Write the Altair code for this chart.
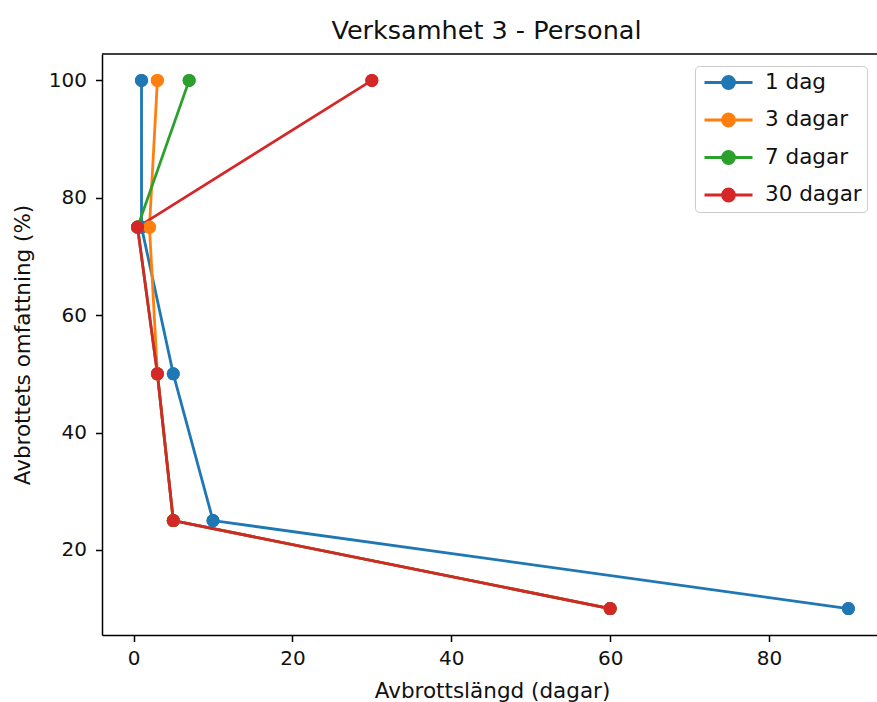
import altair as alt
import pandas as pd

# ---- data ----
series = ["1 dag", "3 dagar", "7 dagar", "30 dagar"]
colors = ["#1f77b4", "#ff7f0e", "#2ca02c", "#d62728"]
omfattning = [100, 75, 50, 25, 10]          # y values (%)
x_1dag = [1, 1, 5, 10, 90]
x_3dagar = [3, 2, 3, 5, 60]
x_7dagar = [7, 0.5, 3, 5, 60]
x_30dagar = [30, 0.5, 3, 5, 60]
x_ticks = [0, 20, 40, 60, 80]
y_ticks = [20, 40, 60, 80, 100]

rows = []
for s, xs in zip(series, [x_1dag, x_3dagar, x_7dagar, x_30dagar]):
    for i, (xv, yv) in enumerate(zip(xs, omfattning)):
        rows.append({"serie": s, "dagar": xv, "omfattning": yv, "ordning": i})
df = pd.DataFrame(rows)

W, H = 775, 581
XDOM = [-3.975, 93.6]
YDOM = [5.5, 104.5]
FONT = "DejaVu Sans"

xenc = alt.X("dagar:Q", scale=alt.Scale(domain=XDOM, nice=False, zero=False),
             axis=alt.Axis(values=x_ticks, title="Avbrottslängd (dagar)", labelPadding=7,
                           titleX=390, titleY=62, titleBaseline="alphabetic"))
yenc = alt.Y("omfattning:Q", scale=alt.Scale(domain=YDOM, nice=False, zero=False),
             axis=alt.Axis(values=y_ticks, title="Avbrottets omfattning (%)", labelPadding=9,
                           titleX=-73, titleY=H / 2, titleBaseline="alphabetic"))

sym_path = "M-2.4,0L2.4,0M0.6,0A0.6,0.6,0,1,1,-0.6,0A0.6,0.6,0,1,1,0.6,0Z"
color = alt.Color(
    "serie:N",
    scale=alt.Scale(domain=series, range=colors),
    legend=alt.Legend(
        title=None, orient="none", legendX=593, legendY=12, direction="vertical",
        symbolType=sym_path, symbolSize=400, symbolStrokeWidth=2.8,
        symbolOffset=17, labelOffset=25, labelFontSize=21.5, labelFont=FONT,
        labelColor="#111111", rowPadding=12.5, padding=5, symbolOpacity=1,
        strokeColor="#cccccc", fillColor="white", cornerRadius=4,
    ),
)

base = alt.Chart(df)
points_under = base.mark_point(filled=True, size=170, opacity=1).encode(x=xenc, y=yenc, color=color)
lines = base.mark_line(strokeWidth=2.8).encode(x=xenc, y=yenc, color=color, order="ordning:Q")
points = base.mark_point(filled=True, size=170, opacity=1).encode(x=xenc, y=yenc, color=color)
frame_top = alt.Chart(pd.DataFrame({"a": [0]})).mark_rule(color="black", strokeWidth=1.5).encode(
    y=alt.datum(YDOM[1]), x=alt.value(0), x2=alt.value(W))

chart = alt.layer(points_under, lines, points, frame_top).properties(
    width=W, height=H,
    title=alt.TitleParams("Verksamhet 3 - Personal", fontSize=25.5, font=FONT,
                          fontWeight="normal", color="#111111", offset=14, frame="group",
                          baseline="alphabetic", dx=-3, dy=25),
    autosize=alt.AutoSizeParams(type="none"),
    padding={"left": 102, "top": 54, "right": 0, "bottom": 67},
).configure(background="white").configure_view(stroke=None).configure_axis(
    grid=False, domainColor="black", domainWidth=1.5, tickColor="black", tickWidth=1.5,
    tickSize=6.5, labelColor="#111111", titleColor="#111111", labelFont=FONT, titleFont=FONT,
    labelFontSize=20, titleFontSize=21.5, titleFontWeight="normal",
)

chart.save("out.html", embed_options={"renderer": "svg", "actions": False})
